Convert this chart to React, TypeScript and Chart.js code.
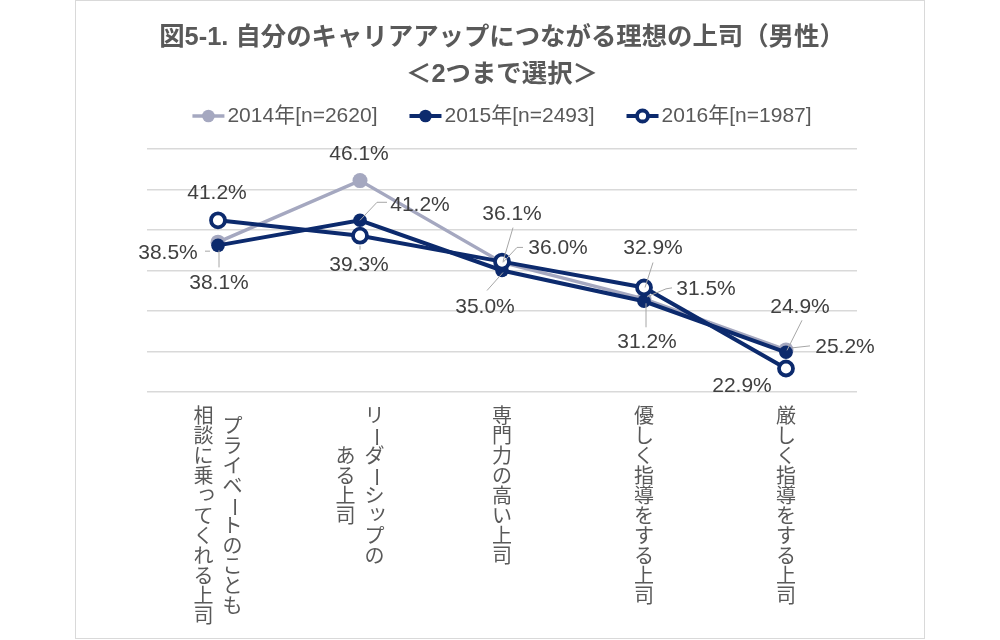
import React, { useEffect, useRef } from 'react';
import { Chart, registerables } from 'chart.js';

Chart.register(...registerables);

// ---- data ----
const titleLines = ['図5-1. 自分のキャリアアップにつながる理想の上司（男性）', '＜2つまで選択＞'];
const categories: string[][] = [
  ['プライベートのことも', '相談に乗ってくれる上司'],
  ['リーダーシップの', 'ある上司'],
  ['専門力の高い上司'],
  ['優しく指導をする上司'],
  ['厳しく指導をする上司'],
];
const seriesNames = ['2014年[n=2620]', '2015年[n=2493]', '2016年[n=1987]'];
const values2014 = [38.5, 46.1, 36.0, 31.5, 25.2];
const values2015 = [38.1, 41.2, 35.0, 31.2, 24.9];
const values2016 = [41.2, 39.3, 36.1, 32.9, 22.9];
const yMin = 20;
const yMax = 50;
const yStep = 5;

// ---- styling / label placement (not data) ----
const FONT = "'Liberation Sans', Arial, 'Noto Sans CJK JP', sans-serif";
const GRAY = '#A5A8C0';
const NAVY = '#0C2A6D';

type LabelPlace = { dx: number; dy: number; leader?: number[][] };
const labelPlacement: LabelPlace[][] = [
  [
    { dx: -50, dy: 11, leader: [[-13, 9], [-8, 9]] },
    { dx: -1, dy: -26 },
    { dx: 56, dy: -14, leader: [[21, -15], [15, -15], [1, 0]] },
    { dx: 62, dy: -10, leader: [[28, -11], [22, -10], [3, -2]] },
    { dx: 59, dy: -3, leader: [[24, -4], [6, -2]] },
  ],
  [
    { dx: 1, dy: 38, leader: [[1, 5], [1, 22]] },
    { dx: 60, dy: -15, leader: [[27, -18], [17, -18], [0, 0]] },
    { dx: -17, dy: 37, leader: [[-15, 20], [1, 2]] },
    { dx: 3, dy: 41, leader: [[2, 2], [2, 26]] },
    { dx: 14, dy: -45, leader: [[16, -32], [1, -2]] },
  ],
  [
    { dx: -1, dy: -27 },
    { dx: -1, dy: 30, leader: [[0, 10], [0, 14]] },
    { dx: 10, dy: -47, leader: [[11, -34], [1, 0]] },
    { dx: 9, dy: -39, leader: [[9, -25], [1, 0]] },
    { dx: -44, dy: 18 },
  ],
];

const dataLabelsPlugin = {
  id: 'dataLabels',
  afterDatasetsDraw(chart: any) {
    const ctx = chart.ctx;
    ctx.save();
    chart.data.datasets.forEach((ds: any, di: number) => {
      const meta = chart.getDatasetMeta(di);
      meta.data.forEach((pt: any, i: number) => {
        const place = labelPlacement[di][i];
        if (place.leader) {
          ctx.beginPath();
          ctx.strokeStyle = '#A6A6A6';
          ctx.lineWidth = 1;
          place.leader.forEach((p, k) => {
            const px = pt.x + p[0];
            const py = pt.y + p[1];
            if (k === 0) ctx.moveTo(px, py);
            else ctx.lineTo(px, py);
          });
          ctx.stroke();
        }
        ctx.font = `21px ${FONT}`;
        ctx.fillStyle = '#404040';
        ctx.textAlign = 'center';
        ctx.textBaseline = 'middle';
        ctx.fillText(`${ds.data[i].toFixed(1)}%`, pt.x + place.dx, pt.y + place.dy);
      });
    });
    ctx.restore();
  },
};

const legendRowPlugin = {
  id: 'legendRow',
  afterDraw(chart: any) {
    const ctx = chart.ctx;
    const area = chart.chartArea;
    const y = area.top - 33;
    ctx.save();
    ctx.font = `21px ${FONT}`;
    const lineLen = 32;
    const gapText = 3;
    const gapItem = 32;
    const items = chart.data.datasets.map((ds: any) => ({ ds, w: ctx.measureText(ds.label).width }));
    const total =
      items.reduce((s: number, it: any) => s + lineLen + gapText + it.w, 0) + gapItem * (items.length - 1);
    let x = (area.left + area.right) / 2 - total / 2;
    items.forEach((it: any) => {
      const ds = it.ds;
      ctx.beginPath();
      ctx.strokeStyle = ds.borderColor;
      ctx.lineWidth = ds.borderWidth;
      ctx.moveTo(x, y);
      ctx.lineTo(x + lineLen, y);
      ctx.stroke();
      const hollow = ds.pointBorderWidth > 0;
      ctx.beginPath();
      ctx.arc(x + lineLen / 2, y, hollow ? 5.5 : 6.3, 0, Math.PI * 2);
      ctx.fillStyle = ds.pointBackgroundColor;
      ctx.fill();
      if (hollow) {
        ctx.strokeStyle = ds.pointBorderColor;
        ctx.lineWidth = ds.pointBorderWidth;
        ctx.stroke();
      }
      ctx.fillStyle = '#595959';
      ctx.textAlign = 'left';
      ctx.textBaseline = 'middle';
      ctx.fillText(ds.label, x + lineLen + gapText, y);
      x += lineLen + gapText + it.w + gapItem;
    });
    ctx.restore();
  },
};

const SMALL_KANA = 'ぁぃぅぇぉっゃゅょァィゥェォッャュョ';
const verticalLabelsPlugin = {
  id: 'verticalLabels',
  afterDraw(chart: any) {
    const ctx = chart.ctx;
    const xs = chart.scales.x;
    const top = chart.chartArea.bottom + 15;
    const pitch = 20;
    const colGap = 29;
    ctx.save();
    ctx.font = `20px ${FONT}`;
    ctx.fillStyle = '#595959';
    ctx.textAlign = 'center';
    ctx.textBaseline = 'middle';
    (chart.data.labels as string[][]).forEach((cols, i) => {
      const cx = xs.getPixelForTick(i);
      const maxLen = Math.max(...cols.map((c) => [...c].length));
      const n = cols.length;
      cols.forEach((col, j) => {
        const colX = cx + ((n - 1) / 2 - j) * colGap;
        const chars = [...col];
        const startY = top + ((maxLen - chars.length) * pitch) / 2;
        chars.forEach((ch, k) => {
          const cy = startY + k * pitch + pitch / 2;
          if (ch === 'ー') {
            ctx.save();
            ctx.translate(colX, cy);
            ctx.rotate(Math.PI / 2);
            ctx.fillText(ch, 0, 0);
            ctx.restore();
          } else if (SMALL_KANA.includes(ch)) {
            ctx.fillText(ch, colX + 3, cy - 3);
          } else {
            ctx.fillText(ch, colX, cy);
          }
        });
      });
    });
    ctx.restore();
  },
};

export default function App() {
  const ref = useRef<HTMLCanvasElement>(null);
  useEffect(() => {
    const canvas = ref.current;
    if (!canvas) return;
    const chart = new Chart(canvas, {
      type: 'line',
      data: {
        labels: categories as any,
        datasets: [
          {
            label: seriesNames[0],
            data: values2014,
            borderColor: GRAY,
            backgroundColor: GRAY,
            borderWidth: 3.5,
            pointRadius: 7.5,
            pointBackgroundColor: GRAY,
            pointBorderColor: GRAY,
            pointBorderWidth: 0,
            tension: 0,
            order: 3,
          },
          {
            label: seriesNames[1],
            data: values2015,
            borderColor: NAVY,
            backgroundColor: NAVY,
            borderWidth: 4,
            pointRadius: 6.8,
            pointBackgroundColor: NAVY,
            pointBorderColor: NAVY,
            pointBorderWidth: 0,
            tension: 0,
            order: 2,
          },
          {
            label: seriesNames[2],
            data: values2016,
            borderColor: NAVY,
            backgroundColor: '#FFFFFF',
            borderWidth: 4,
            pointRadius: 7,
            pointBackgroundColor: '#FFFFFF',
            pointBorderColor: NAVY,
            pointBorderWidth: 3.8,
            tension: 0,
            order: 1,
          },
        ],
      },
      options: {
        responsive: false,
        animation: false,
        events: [],
        layout: { padding: { top: 18.5, left: 71, right: 67, bottom: 0 } },
        scales: {
          x: {
            offset: true,
            grid: { display: false, drawTicks: false },
            border: { display: false },
            ticks: { display: false },
            afterFit: (scale: any) => {
              scale.height = 246;
            },
          },
          y: {
            min: yMin,
            max: yMax,
            grid: { color: '#D9D9D9', lineWidth: 1.5, drawTicks: false },
            border: { display: false },
            ticks: { display: false, stepSize: yStep },
          },
        },
        plugins: {
          legend: { display: false },
          tooltip: { enabled: false },
          title: {
            display: true,
            text: titleLines,
            color: '#595959',
            font: { family: FONT, size: 25.4, weight: 'bold', lineHeight: 1.457 },
            padding: { top: 0, bottom: 55.5 },
          },
        },
      } as any,
      plugins: [dataLabelsPlugin, legendRowPlugin, verticalLabelsPlugin],
    });
    return () => chart.destroy();
  }, []);

  return (
    <div style={{ position: 'fixed', left: 0, top: 0, width: 1000, height: 640, background: '#FFFFFF' }}>
      <div
        style={{
          position: 'absolute',
          left: 75,
          top: 0,
          width: 850,
          height: 639,
          boxSizing: 'border-box',
          border: '1px solid #D9D9D9',
        }}
      >
        <canvas ref={ref} width={848} height={637} style={{ display: 'block', width: 848, height: 637 }} />
      </div>
    </div>
  );
}
